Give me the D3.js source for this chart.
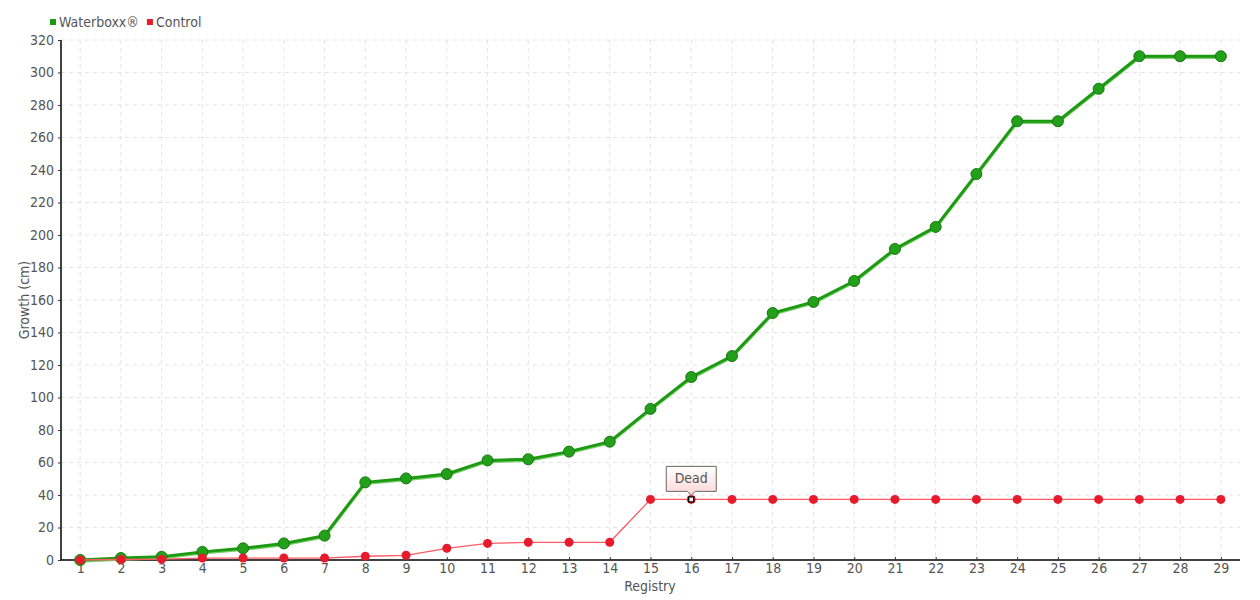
<!DOCTYPE html>
<html>
<head>
<meta charset="utf-8">
<script src="https://cdnjs.cloudflare.com/ajax/libs/d3/7.8.5/d3.min.js"></script>
<style>
  body { margin: 0; background: #fff; }
  svg text { font-family: "DejaVu Sans Condensed", "DejaVu Sans", sans-serif; font-stretch: condensed; fill: #555; }
</style>
</head>
<body>
<svg width="1260" height="600"></svg>
<script>
var registry = d3.range(1, 30);
var waterboxx = [0, 1.2, 2, 5, 7.2, 10.2, 15, 47.8, 50.2, 52.9, 61.3, 62, 66.7, 72.8, 93,
                 112.6, 125.5, 152, 158.8, 171.7, 191.4, 205, 237.5, 270, 270, 290, 310, 310, 310];
var control = [0, 0.3, 0.5, 1.2, 1.2, 1.2, 1.2, 2.3, 2.9, 7.2, 10.2, 10.9, 10.9, 10.9, 37.3,
               37.3, 37.3, 37.3, 37.3, 37.3, 37.3, 37.3, 37.3, 37.3, 37.3, 37.3, 37.3, 37.3, 37.3];
var yTicks = d3.range(0, 321, 20);
var note = { index: 15, text: "Dead" };

var svg = d3.select("svg"),
    pLeft = 61, pRight = 1240, pTop = 40, pBottom = 560;

var x = d3.scalePoint().domain(registry).range([pLeft, pRight]).padding(0.47);
var y = d3.scaleLinear().domain([0, 320]).range([pBottom, pTop]);

// grid
var grid = svg.append("g").attr("stroke", "#e4e4e4").attr("stroke-dasharray", "4,4");
grid.selectAll(".gy").data(yTicks.slice(1)).enter().append("line")
    .attr("x1", pLeft).attr("x2", pRight)
    .attr("y1", function(d) { return y(d); }).attr("y2", function(d) { return y(d); });
grid.selectAll(".gx").data(registry).enter().append("line")
    .attr("x1", function(d) { return x(d); }).attr("x2", function(d) { return x(d); })
    .attr("y1", pTop).attr("y2", pBottom);

// axes
var yAxis = svg.append("g").attr("transform", "translate(" + pLeft + ",0)")
    .call(d3.axisLeft(y).tickValues(yTicks).tickSize(3).tickPadding(4));
var xAxis = svg.append("g").attr("transform", "translate(0," + pBottom + ")")
    .call(d3.axisBottom(x).tickSizeInner(-3).tickSizeOuter(0).tickPadding(3));
[yAxis, xAxis].forEach(function(a) {
  a.select(".domain").attr("stroke", "#000").attr("stroke-width", 1.5);
  a.selectAll(".tick line").attr("stroke", "#333");
  a.selectAll("text").style("font-size", "14px").attr("fill", "#555");
});
yAxis.select(".domain").attr("d", "M0," + pBottom + "V" + pTop);
xAxis.select(".domain").attr("d", "M" + pLeft + ",0H" + pRight);

svg.append("text").attr("x", 650).attr("y", 591).attr("text-anchor", "middle")
    .style("font-size", "14px").text("Registry");
svg.append("text").attr("transform", "translate(29,300) rotate(-90)").attr("text-anchor", "middle")
    .style("font-size", "14px").text("Growth (cm)");

var line = d3.line()
    .x(function(d, i) { return x(registry[i]); })
    .y(function(d) { return y(d); });

// waterboxx
svg.append("path").datum(waterboxx).attr("fill", "none")
    .attr("stroke", "#7ccf6e").attr("stroke-width", 2.5).attr("transform", "translate(0,1.5)").attr("d", line);
svg.append("path").datum(waterboxx).attr("fill", "none")
    .attr("stroke", "#1e9a12").attr("stroke-width", 3).attr("d", line);
svg.append("g").selectAll("circle").data(waterboxx).enter().append("circle")
    .attr("cx", function(d, i) { return x(registry[i]); })
    .attr("cy", function(d) { return y(d); })
    .attr("r", 5.5).attr("fill", "#22a01a").attr("stroke", "#17780f").attr("stroke-width", 1);

// control
svg.append("path").datum(control).attr("fill", "none")
    .attr("stroke", "#ff5a66").attr("stroke-width", 1.3).attr("d", line);
svg.append("g").selectAll("circle").data(control).enter().append("circle")
    .attr("cx", function(d, i) { return x(registry[i]); })
    .attr("cy", function(d) { return y(d); })
    .attr("r", 4.5).attr("fill", "#e81a2c");

// annotation
var nx = x(registry[note.index]), ny = y(control[note.index]);
svg.append("rect").attr("x", nx - 2.5).attr("y", ny - 2.5).attr("width", 5).attr("height", 5)
    .attr("fill", "#fff").attr("stroke", "#000").attr("stroke-width", 1.3);
var defs = svg.append("defs");
var grad = defs.append("linearGradient").attr("id", "tipg").attr("x1", 0).attr("y1", 0).attr("x2", 0).attr("y2", 1);
grad.append("stop").attr("offset", "0%").attr("stop-color", "#ffffff");
grad.append("stop").attr("offset", "100%").attr("stop-color", "#ffd6d6");
var bw = 50, bh = 25, by = ny - 8 - bh;
svg.append("path")
    .attr("d", "M" + (nx - bw / 2) + "," + by + "h" + bw + "v" + bh + "h" + (-bw / 2 + 4) +
               "l-4,4l-4,-4H" + (nx - bw / 2) + "Z")
    .attr("fill", "url(#tipg)").attr("stroke", "#666").attr("stroke-width", 1);
svg.append("text").attr("x", nx).attr("y", by + 17).attr("text-anchor", "middle")
    .style("font-size", "14px").text(note.text);

// legend
var legend = [{ name: "Waterboxx®", color: "#1e9a12" }, { name: "Control", color: "#e81a2c" }];
var lx = 50;
legend.forEach(function(l) {
  svg.append("rect").attr("x", lx).attr("y", 19).attr("width", 6).attr("height", 6).attr("fill", l.color);
  var t = svg.append("text").attr("x", lx + 9).attr("y", 27).style("font-size", "14px").text(l.name);
  lx += 9 + t.node().getComputedTextLength() + 8;
});
</script>
</body>
</html>
